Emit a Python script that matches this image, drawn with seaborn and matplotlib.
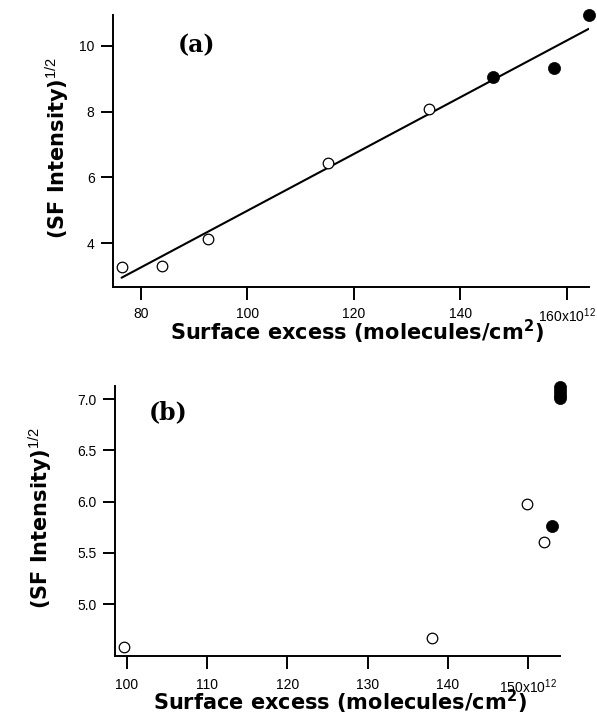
import matplotlib
matplotlib.use("Agg")
import matplotlib.pyplot as plt
import numpy as np
import pandas as pd
import seaborn as sns

# Panel (a): surface excess (x 1e12 molecules/cm^2) vs sqrt(SF intensity)
a_open_x = [76.4, 83.9, 92.6, 115.1, 134.2]
a_open_y = [3.29, 3.32, 4.12, 6.45, 8.08]
a_filled_x = [146.2, 157.5, 164.1]
a_filled_y = [9.06, 9.32, 10.94]

# Panel (b)
b_open_x = [99.7, 138.0, 149.9, 151.9]
b_open_y = [4.58, 4.67, 5.98, 5.61]
b_filled_x = [152.9, 153.9, 153.9, 153.9, 153.9]
b_filled_y = [5.76, 7.12, 7.08, 7.04, 7.01]

a_xticks = [80, 100, 120, 140, 160]
a_xticklabels = ["80", "100", "120", "140", r"160x10$^{\mathrm{12}}$"]
a_yticks = [4, 6, 8, 10]
a_yticklabels = ["4", "6", "8", "10"]
b_xticks = [100, 110, 120, 130, 140, 150]
b_xticklabels = ["100", "110", "120", "130", "140", r"150x10$^{\mathrm{12}}$"]
b_yticks = [5.0, 5.5, 6.0, 6.5, 7.0]
b_yticklabels = ["5.0", "5.5", "6.0", "6.5", "7.0"]

x_label = r"Surface excess (molecules/cm$^{\mathbf{2}}$)"
y_label = r"(SF Intensity)$^{\mathrm{1/2}}$"

sns.set_theme(style="ticks")
plt.rcParams["font.family"] = ["Liberation Sans", "DejaVu Sans"]
plt.rcParams["mathtext.fontset"] = "custom"
plt.rcParams["mathtext.rm"] = "Liberation Sans"
plt.rcParams["mathtext.bf"] = "DejaVu Sans:bold"
plt.rcParams["text.color"] = "black"
plt.rcParams["axes.labelcolor"] = "black"

W, H = 597, 725
fig = plt.figure(figsize=(W / 100, H / 100), dpi=100)


def px_axes(left, top, right, bottom):
    return fig.add_axes([left / W, 1 - bottom / H, (right - left) / W, (bottom - top) / H])


ax1 = px_axes(113.3, 15, 589.3, 286.7)
ax2 = px_axes(115, 386, 560, 656)

open_kw = dict(marker="o", s=58, facecolor="white", edgecolor="black", linewidth=0.9,
               clip_on=False, zorder=3, legend=False)
fill_kw = dict(marker="o", s=76, color="black", edgecolor="black", linewidth=0.5,
               clip_on=False, zorder=3, legend=False)

# Linear fit through all points of panel (a)
all_a = pd.DataFrame({"x": a_open_x + a_filled_x, "y": a_open_y + a_filled_y})
sns.regplot(data=all_a, x="x", y="y", ax=ax1, scatter=False, ci=None, truncate=True,
            line_kws=dict(color="black", linewidth=1.5, zorder=2))
sns.scatterplot(x=a_open_x, y=a_open_y, ax=ax1, **open_kw)
sns.scatterplot(x=a_filled_x, y=a_filled_y, ax=ax1, **fill_kw)

sns.scatterplot(x=b_open_x, y=b_open_y, ax=ax2, **open_kw)
sns.scatterplot(x=b_filled_x, y=b_filled_y, ax=ax2, **fill_kw)

ax1.set_xlim(74.85, 164.2)
ax1.set_ylim(2.68, 10.94)
ax2.set_xlim(98.54, 153.95)
ax2.set_ylim(4.496, 7.127)

ax1.set_xticks(a_xticks, a_xticklabels)
ax1.set_yticks(a_yticks, a_yticklabels)
ax2.set_xticks(b_xticks, b_xticklabels)
ax2.set_yticks(b_yticks, b_yticklabels)

for ax in (ax1, ax2):
    ax.set_xlabel("")
    ax.set_ylabel("")
    for side in ("top", "right"):
        ax.spines[side].set_visible(False)
    for side in ("left", "bottom"):
        ax.spines[side].set_linewidth(1.4)
        ax.spines[side].set_color("black")
    ax.tick_params(axis="both", direction="out", length=9, width=1.4, colors="black",
                   labelsize=10, labelcolor="black")
    ax.tick_params(axis="y", pad=4.5)
    ax.set_facecolor("white")

ax1.tick_params(axis="x", pad=5.5)
ax2.tick_params(axis="x", pad=6.5)

# Axis titles
title_kw = dict(fontsize=15, fontweight="bold", family="DejaVu Sans", color="black")
fig.text(356.5 / W, 1 - 340 / H, x_label, ha="center", va="baseline", **title_kw)
fig.text(340 / W, 1 - 710.5 / H, x_label, ha="center", va="baseline", **title_kw)
fig.text(57 / W, 1 - 148 / H, y_label, ha="center", va="center", rotation=90, **title_kw)
fig.text(40 / W, 1 - 518 / H, y_label, ha="center", va="center", rotation=90, **title_kw)

# Panel tags
tag_kw = dict(ha="center", va="center", fontsize=17, fontweight="bold",
              family="DejaVu Serif", color="black")
fig.text(196.5 / W, 1 - 45.5 / H, "(a)", **tag_kw)
fig.text(168.3 / W, 1 - 412.5 / H, "(b)", **tag_kw)

fig.savefig("out.png", dpi=100, facecolor="white")
